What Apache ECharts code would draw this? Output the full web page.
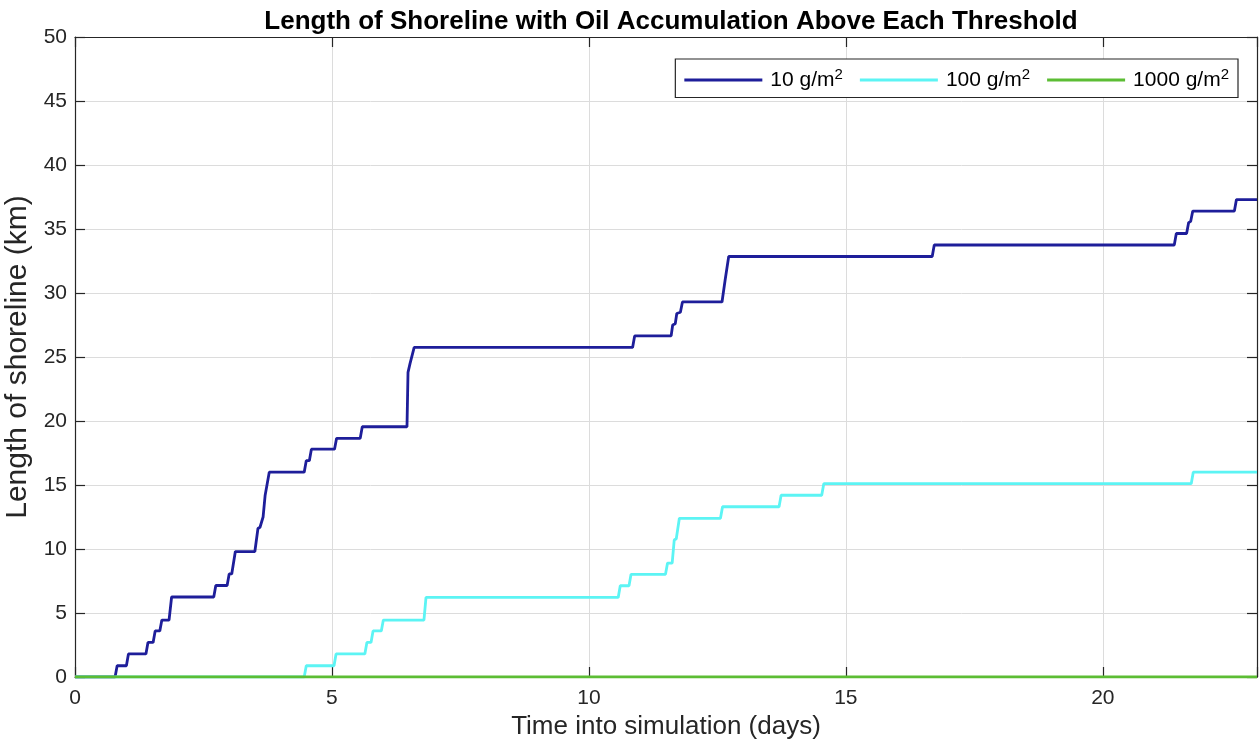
<!DOCTYPE html>
<html>
<head>
<meta charset="utf-8">
<script src="https://cdn.jsdelivr.net/npm/echarts@6/dist/echarts.min.js"></script>
<style>
  html, body { margin: 0; padding: 0; background: #fff; }
  #chart { width: 1260px; height: 749px; }
</style>
</head>
<body>
<div id="chart"></div>
<script>
// Shoreline length above each oil threshold (step vertices: time in days, length in km)
const seriesNames = ['10 g/m{sup|2}', '100 g/m{sup|2}', '1000 g/m{sup|2}'];

const t10 = [0, 0.78, 0.82, 1.00, 1.04, 1.38, 1.42, 1.52, 1.56, 1.65, 1.69, 1.83, 1.88, 2.70, 2.74, 2.96, 3.00, 3.05, 3.12,
  3.50, 3.56, 3.60, 3.66, 3.70, 3.78, 4.46, 4.50, 4.56, 4.60, 5.05, 5.09, 5.55, 5.59, 6.46, 6.48, 6.52, 6.60,
  10.85, 10.89, 11.60, 11.63, 11.68, 11.71, 11.78, 11.82, 12.59, 12.65, 12.72, 16.68, 16.72, 21.39, 21.43,
  21.63, 21.67, 21.71, 21.75, 22.56, 22.60, 23];
const km10 = [0, 0, 0.88, 0.88, 1.8, 1.8, 2.7, 2.7, 3.6, 3.6, 4.45, 4.45, 6.25, 6.25, 7.15, 7.15, 8.05, 8.05, 9.8,
  9.8, 11.6, 11.7, 12.5, 14.2, 16.0, 16.0, 16.9, 16.9, 17.8, 17.8, 18.65, 18.65, 19.55, 19.55, 23.8, 24.5, 25.75,
  25.75, 26.65, 26.65, 27.5, 27.6, 28.4, 28.5, 29.3, 29.3, 31.0, 32.85, 32.85, 33.75, 33.75, 34.65,
  34.65, 35.5, 35.6, 36.4, 36.4, 37.3, 37.3];

const t100 = [0, 4.46, 4.50, 5.04, 5.08, 5.64, 5.68, 5.76, 5.80, 5.96, 6.00, 6.79, 6.83, 10.57, 10.61, 10.78, 10.82,
  11.49, 11.53, 11.62, 11.66, 11.70, 11.76, 12.56, 12.60, 13.70, 13.74, 14.53, 14.57, 21.72, 21.76, 23];
const km100 = [0, 0, 0.88, 0.88, 1.8, 1.8, 2.7, 2.7, 3.6, 3.6, 4.45, 4.45, 6.22, 6.22, 7.13, 7.13, 8.02,
  8.02, 8.9, 8.9, 10.7, 10.8, 12.4, 12.4, 13.3, 13.3, 14.2, 14.2, 15.1, 15.1, 16.0, 16.0];

const t1000 = [0, 23];
const km1000 = [0, 0];

const xTicks = [0, 5, 10, 15, 20];
const yTicks = [0, 5, 10, 15, 20, 25, 30, 35, 40, 45, 50];

const FONT = '"Liberation Sans", Arial, Helvetica, sans-serif';
const INK = '#262626';

const pairs = (xs, ys) => xs.map((x, i) => [x, ys[i]]);

const chart = echarts.init(document.getElementById('chart'), null, { renderer: 'canvas' });

const axisCommon = {
  axisLine: { show: true, onZero: false, lineStyle: { color: INK, width: 1.2 } },
  axisTick: { show: true, inside: true, length: 10, lineStyle: { color: INK, width: 1.2 } },
};

chart.setOption({
  animation: false,
  backgroundColor: '#ffffff',
  title: {
    text: 'Length of Shoreline with Oil Accumulation Above Each Threshold',
    left: 666, top: 4, textAlign: 'center',
    textStyle: { fontFamily: FONT, fontWeight: 'bold', fontSize: 26, color: '#000' }
  },
  legend: {
    right: 22, top: 59,
    orient: 'horizontal',
    itemWidth: 78, itemHeight: 3, itemGap: 17,
    padding: [8, 9, 7, 9],
    borderColor: INK, borderWidth: 1.2, borderRadius: 0,
    backgroundColor: '#fff',
    icon: 'rect',
    textStyle: {
      fontFamily: FONT, fontSize: 21, color: '#000', padding: [0, 0, 0, 3],
      rich: {
        sup: { fontFamily: FONT, fontSize: 15, color: '#000', padding: [0, 0, 11, 0] }
      }
    }
  },
  grid: { left: 75, right: 3, top: 37, bottom: 72, containLabel: false, outerBoundsMode: 'none' },
  xAxis: [{
    type: 'value', min: 0, max: 23, interval: 5,
    name: 'Time into simulation (days)', nameLocation: 'middle', nameGap: 33,
    nameTextStyle: { fontFamily: FONT, fontSize: 26, color: INK, verticalAlign: 'top' },
    ...axisCommon,
    axisLabel: { fontFamily: FONT, fontSize: 21, color: INK, margin: 11, customValues: xTicks },
    splitLine: { show: true, lineStyle: { color: '#dcdcdc', width: 1 } }
  }, {
    type: 'value', position: 'top', min: 0, max: 23, interval: 5,
    ...axisCommon,
    axisLabel: { show: false },
    splitLine: { show: false }
  }],
  yAxis: [{
    type: 'value', min: 0, max: 50, interval: 5,
    name: 'Length of shoreline (km)', nameLocation: 'middle', nameGap: 36, nameRotate: 90,
    nameTextStyle: { fontFamily: FONT, fontSize: 30, color: INK },
    ...axisCommon,
    axisLabel: { fontFamily: FONT, fontSize: 21, color: INK, margin: 8, customValues: yTicks },
    splitLine: { show: true, lineStyle: { color: '#dcdcdc', width: 1 } }
  }, {
    type: 'value', position: 'right', min: 0, max: 50, interval: 5,
    ...axisCommon,
    axisLabel: { show: false },
    splitLine: { show: false }
  }],
  series: [
    { name: seriesNames[0], type: 'line', data: pairs(t10, km10), showSymbol: false, symbol: 'none',
      lineStyle: { color: '#1e1e9a', width: 2.8 }, itemStyle: { color: '#1e1e9a' }, z: 3 },
    { name: seriesNames[1], type: 'line', data: pairs(t100, km100), showSymbol: false, symbol: 'none',
      lineStyle: { color: '#5cf4f4', width: 2.8 }, itemStyle: { color: '#5cf4f4' }, z: 3 },
    { name: seriesNames[2], type: 'line', data: pairs(t1000, km1000), showSymbol: false, symbol: 'none',
      lineStyle: { color: '#5cbd34', width: 2.8 }, itemStyle: { color: '#5cbd34' }, z: 4 }
  ]
});
</script>
</body>
</html>
